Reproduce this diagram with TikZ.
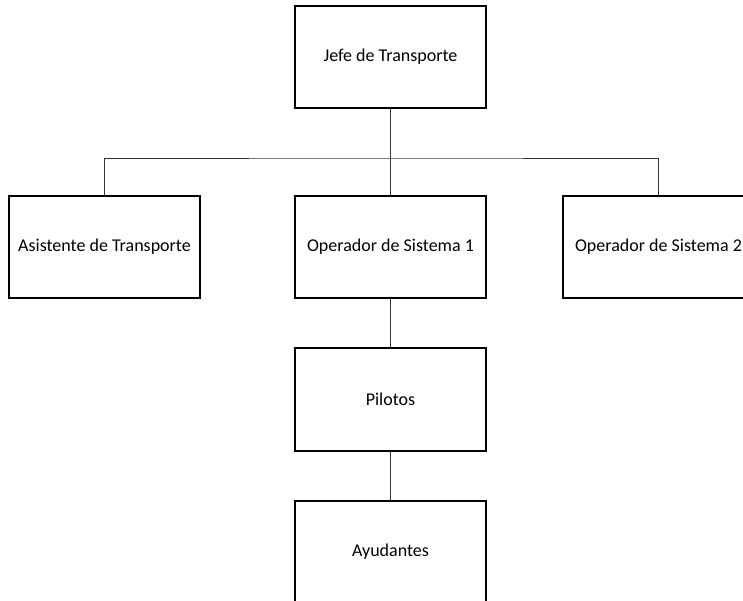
\documentclass[tikz,border=0pt]{standalone}
\usepackage{fontspec}
\setmainfont{Carlito}
\begin{document}
\begin{tikzpicture}[x=1bp,y=-1bp,
  box/.style={draw=black,line width=1.6bp,fill=white,rectangle,minimum width=191bp,minimum height=102bp,inner sep=0pt,font=\fontsize{18bp}{21bp}\selectfont},
  link/.style={draw=black!80,line width=0.9bp}]
\useasboundingbox (0,0) rectangle (743,601);
\clip (0,0) rectangle (743,601);
\node[box] (jefe) at (390.5,57) {\raisebox{-3bp}{Jefe de Transporte}};
\node[box] (asis) at (104.5,247) {Asistente de Transporte};
\node[box] (op1) at (390.5,247) {Operador de Sistema 1};
\node[box] (op2) at (658.5,247) {Operador de Sistema 2};
\node[box,minimum height=103bp] (pil) at (390.5,399.5) {Pilotos};
\node[box] (ayu) at (390.5,552) {Ayudantes};
\coordinate (bus) at (390.5,158);
\draw[link] (jefe.south) -- (op1.north);
\draw[link] (asis.north) |- (bus) -| (op2.north);
\draw[link] (op1.south) -- (pil.north);
\draw[link] (pil.south) -- (ayu.north);
\end{tikzpicture}
\end{document}
